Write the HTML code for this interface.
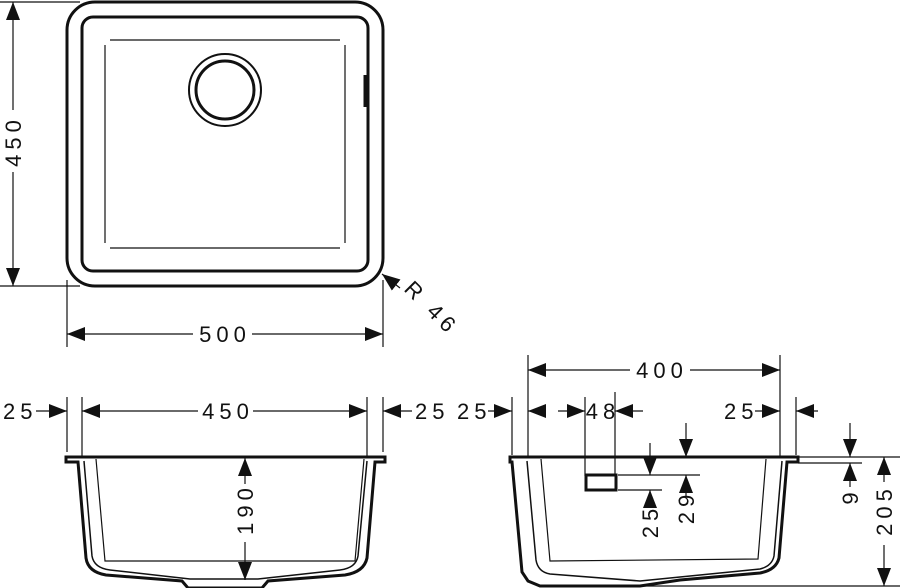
<!DOCTYPE html>
<html><head><meta charset="utf-8"><style>
html,body{margin:0;padding:0;background:#fff;}
svg{display:block;}
text{font-family:"Liberation Sans",sans-serif;font-size:22px;fill:#111;letter-spacing:5px;}
</style></head><body>
<svg width="900" height="588" viewBox="0 0 900 588" xmlns="http://www.w3.org/2000/svg">
<defs>
<marker id="a" viewBox="0 0 18 14" refX="18" refY="7" markerWidth="18" markerHeight="14" markerUnits="userSpaceOnUse" orient="auto-start-reverse">
<path d="M0,0 L18,7 L0,14 Z" fill="#111"/>
</marker>
</defs>
<g stroke="#111" fill="none">
<rect x="67" y="2" width="316" height="284" rx="28" stroke-width="3"/>
<rect x="82" y="17" width="286" height="254" rx="11" stroke-width="3"/>
<line x1="110" y1="40" x2="340" y2="40" stroke-width="1.2"/>
<line x1="110" y1="248" x2="340" y2="248" stroke-width="1.2"/>
<line x1="105" y1="45" x2="105" y2="243" stroke-width="1.2"/>
<line x1="345" y1="45" x2="345" y2="243" stroke-width="1.2"/>
<circle cx="225" cy="90" r="36" stroke-width="2"/>
<circle cx="225" cy="90" r="29" stroke-width="3"/>
<line x1="365" y1="75" x2="365" y2="107" stroke-width="3"/>
<line x1="0" y1="2" x2="80" y2="2" stroke-width="1.2"/>
<line x1="0" y1="286" x2="80" y2="286" stroke-width="1.2"/>
<line x1="13" y1="2" x2="13" y2="110" stroke-width="1.2" marker-start="url(#a)"/>
<line x1="13" y1="172" x2="13" y2="286" stroke-width="1.2" marker-end="url(#a)"/>
<line x1="67" y1="280" x2="67" y2="347" stroke-width="1.2"/>
<line x1="383" y1="280" x2="383" y2="347" stroke-width="1.2"/>
<line x1="67" y1="334" x2="193" y2="334" stroke-width="1.2" marker-start="url(#a)"/>
<line x1="252" y1="334" x2="383" y2="334" stroke-width="1.2" marker-end="url(#a)"/>
<line x1="400" y1="288" x2="382" y2="274" stroke-width="1.2" marker-end="url(#a)"/>

<line x1="67" y1="397" x2="67" y2="452" stroke-width="1.2"/>
<line x1="82" y1="397" x2="82" y2="456" stroke-width="1.2"/>
<line x1="367" y1="397" x2="367" y2="456" stroke-width="1.2"/>
<line x1="383" y1="397" x2="383" y2="452" stroke-width="1.2"/>
<line x1="36" y1="411" x2="67" y2="411" stroke-width="1.2" marker-end="url(#a)"/>
<line x1="82" y1="411" x2="198" y2="411" stroke-width="1.2" marker-start="url(#a)"/>
<line x1="253" y1="411" x2="367" y2="411" stroke-width="1.2" marker-end="url(#a)"/>
<line x1="383" y1="411" x2="412" y2="411" stroke-width="1.2" marker-start="url(#a)"/>
<path d="M66,457 L385,457 L385,462 L375,462 L367,558 Q364,572 345,575 L268,581 L262,588 L188,588 L182,581 L106,575 Q88,572 86,558 L78,462 L66,462 Z" stroke-width="3"/>
<path d="M84,461 L92,556 Q94,568 110,570 L190,579 L258,579 L340,570 Q356,568 358,556 L367,461" stroke-width="1.5"/>
<path d="M96,459 L105,561 L355,561 L364,459" stroke-width="1.2"/>
<line x1="245" y1="458" x2="245" y2="484" stroke-width="1.2" marker-start="url(#a)"/>
<line x1="245" y1="542" x2="245" y2="580" stroke-width="1.2" marker-end="url(#a)"/>

<line x1="528" y1="355" x2="528" y2="456" stroke-width="1.2"/>
<line x1="780" y1="355" x2="780" y2="456" stroke-width="1.2"/>
<line x1="512" y1="397" x2="512" y2="455" stroke-width="1.2"/>
<line x1="585" y1="397" x2="585" y2="476" stroke-width="1.2"/>
<line x1="615" y1="392" x2="615" y2="476" stroke-width="1.2"/>
<line x1="796" y1="397" x2="796" y2="455" stroke-width="1.2"/>
<line x1="528" y1="370" x2="630" y2="370" stroke-width="1.2" marker-start="url(#a)"/>
<line x1="690" y1="370" x2="780" y2="370" stroke-width="1.2" marker-end="url(#a)"/>
<line x1="488" y1="411" x2="512" y2="411" stroke-width="1.2" marker-end="url(#a)"/>
<line x1="528" y1="411" x2="545" y2="411" stroke-width="1.2" marker-start="url(#a)"/>
<line x1="558" y1="411" x2="585" y2="411" stroke-width="1.2" marker-end="url(#a)"/>
<line x1="615" y1="411" x2="643" y2="411" stroke-width="1.2" marker-start="url(#a)"/>
<line x1="755" y1="411" x2="780" y2="411" stroke-width="1.2" marker-end="url(#a)"/>
<line x1="796" y1="411" x2="818" y2="411" stroke-width="1.2" marker-start="url(#a)"/>
<path d="M510,457 L798,457 L798,462 L787,462 L779,558 Q776,570 760,573 L680,580 L640,586 L540,586 L528,581 L522,572 L512,462 L510,462 Z" stroke-width="3"/>
<path d="M527,461 L536,560 Q538,572 550,574 L640,581 L760,569 Q772,566 774,556 L782,461" stroke-width="1.5"/>
<path d="M541,459 L550,561 L758,559 L766,459" stroke-width="1.2"/>
<rect x="586" y="475" width="30" height="15" stroke-width="3"/>
<line x1="618" y1="475" x2="700" y2="475" stroke-width="1.2"/>
<line x1="618" y1="490" x2="662" y2="490" stroke-width="1.2"/>
<line x1="650" y1="443" x2="650" y2="475" stroke-width="1.2" marker-end="url(#a)"/>
<line x1="650" y1="507" x2="650" y2="490" stroke-width="1.2" marker-end="url(#a)"/>
<line x1="686" y1="423" x2="686" y2="457" stroke-width="1.2" marker-end="url(#a)"/>
<line x1="686" y1="497" x2="686" y2="475" stroke-width="1.2" marker-end="url(#a)"/>
<line x1="798" y1="457" x2="900" y2="457" stroke-width="1.2"/>
<line x1="798" y1="463" x2="862" y2="463" stroke-width="1.2"/>
<line x1="540" y1="586" x2="900" y2="586" stroke-width="1.2"/>
<line x1="850" y1="423" x2="850" y2="457" stroke-width="1.2" marker-end="url(#a)"/>
<line x1="850" y1="487" x2="850" y2="463" stroke-width="1.2" marker-end="url(#a)"/>
<line x1="884" y1="482" x2="884" y2="457" stroke-width="1.2" marker-end="url(#a)"/>
<line x1="884" y1="545" x2="884" y2="586" stroke-width="1.2" marker-end="url(#a)"/>
</g>
<g>
<text transform="translate(13,144) rotate(-90)" x="3" y="8" text-anchor="middle">450</text>
<text x="225" y="342" text-anchor="middle">500</text>
<text transform="translate(403,290) rotate(45)">R 46</text>
<text x="3" y="419">25</text>
<text x="228" y="419" text-anchor="middle">450</text>
<text x="415" y="419">25</text>
<text transform="translate(245,512) rotate(-90)" x="3" y="8" text-anchor="middle">190</text>
<text x="457" y="419">25</text>
<text x="603" y="419" text-anchor="middle">48</text>
<text x="724" y="419">25</text>
<text x="662" y="378" text-anchor="middle">400</text>
<text transform="translate(650,524) rotate(-90)" x="3" y="8" text-anchor="middle">25</text>
<text transform="translate(686,510) rotate(-90)" x="3" y="8" text-anchor="middle">29</text>
<text transform="translate(850,499) rotate(-90)" x="3" y="8" text-anchor="middle">9</text>
<text transform="translate(884,513) rotate(-90)" x="3" y="8" text-anchor="middle">205</text>
</g>
</svg>
</body></html>
